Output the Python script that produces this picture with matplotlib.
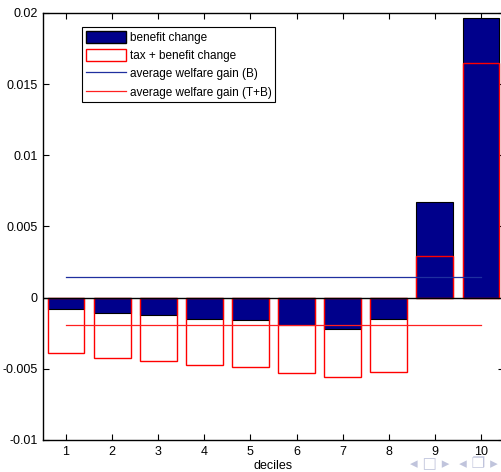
import matplotlib
matplotlib.use("Agg")
import matplotlib.pyplot as plt
from matplotlib.patches import Patch
from matplotlib.lines import Line2D

deciles = [1, 2, 3, 4, 5, 6, 7, 8, 9, 10]
benefit_change = [-0.00082, -0.00108, -0.00122, -0.0015, -0.00155, -0.00195, -0.0022, -0.00147, 0.0067, 0.01967]
tax_benefit_change = [-0.0039, -0.00423, -0.00444, -0.00472, -0.00484, -0.0053, -0.0056, -0.00524, 0.00293, 0.01648]
avg_gain_B = 0.00143
avg_gain_TB = -0.00195
yticks = [-0.01, -0.005, 0, 0.005, 0.01, 0.015, 0.02]
ytick_labels = ["-0.01", "-0.005", "0", "0.005", "0.01", "0.015", "0.02"]

plt.rcParams['font.family'] = ['Liberation Sans', 'DejaVu Sans']
W, H = 502, 472
fig = plt.figure(figsize=(W/100, H/100), dpi=100)
ax = fig.add_axes([43/W, 1-440/H, (504-43)/W, (440-13)/H])

navy = '#00008b'
ax.bar(deciles, benefit_change, width=0.8, color=navy, edgecolor='black', linewidth=0.8, zorder=2)
ax.bar(deciles, tax_benefit_change, width=0.8, facecolor='none', edgecolor='red', linewidth=1.0, zorder=3)
ax.axhline(0, color='black', linewidth=1.0, zorder=4)
ax.plot([deciles[0], deciles[-1]], [avg_gain_B, avg_gain_B], color='#1f2f9f', linewidth=0.9, zorder=5)
ax.plot([deciles[0], deciles[-1]], [avg_gain_TB, avg_gain_TB], color='#ff2020', linewidth=0.9, zorder=5)

ax.set_xlim(0.5, 10.5)
ax.set_ylim(-0.01, 0.02)
ax.set_xticks(deciles)
ax.set_xticklabels([str(d) for d in deciles])
ax.set_yticks(yticks)
ax.set_yticklabels(ytick_labels)
ax.tick_params(direction='in', top=True, right=True, length=4, width=0.8, labelsize=9, pad=4)
for s in ax.spines.values():
    s.set_linewidth(1.0)
ax.set_xlabel('deciles', fontsize=9, labelpad=2)

handles = [
    Patch(facecolor=navy, edgecolor='black', label='benefit change'),
    Patch(facecolor='white', edgecolor='red', label='tax + benefit change'),
    Line2D([], [], color='#1f2f9f', linewidth=0.9, label='average welfare gain (B)'),
    Line2D([], [], color='#ff2020', linewidth=0.9, label='average welfare gain (T+B)'),
]
leg = ax.legend(handles=handles, loc='upper left', bbox_to_anchor=((82-43)/(504-43), (440-27)/(440-13)),
                fontsize=8.5, frameon=True, fancybox=False, edgecolor='black', framealpha=1,
                borderpad=0.3, labelspacing=0.45, handlelength=3.4, handleheight=1.2,
                handletextpad=0.35, borderaxespad=0)
leg.get_frame().set_linewidth(0.8)

fig.text(0.905, 1-464/H, '\u25C2 \u25A1 \u25B8  \u25C2 \u2750 \u25B8', fontsize=11, color='#c0c4dc',
         ha='center', va='center', family=['DejaVu Sans'])

fig.savefig('out.png', dpi=100)
